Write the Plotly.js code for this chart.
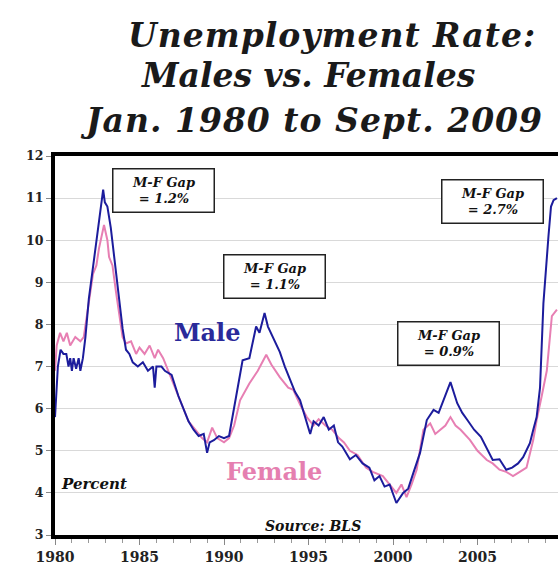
<!DOCTYPE html>
<html><head><meta charset="utf-8">
<script src="https://cdn.plot.ly/plotly-3.0.1.min.js"></script>
<style>html,body{margin:0;padding:0;overflow:hidden;background:#fff}#chart{width:575px;height:574px}</style>
</head><body><div id="chart"></div>
<script>
const maleYears = [1980.0,1980.08,1980.17,1980.33,1980.5,1980.67,1980.8,1980.9,1981.0,1981.1,1981.25,1981.4,1981.5,1981.65,1981.8,1982.0,1982.25,1982.5,1982.7,1982.85,1982.95,1983.1,1983.3,1983.5,1983.7,1984.0,1984.2,1984.4,1984.6,1984.9,1985.2,1985.5,1985.8,1985.9,1986.0,1986.3,1986.5,1986.9,1987.3,1987.6,1987.9,1988.2,1988.5,1988.8,1989.0,1989.15,1989.4,1989.7,1990.0,1990.3,1990.5,1990.8,1991.1,1991.5,1991.9,1992.1,1992.4,1992.6,1992.9,1993.3,1993.6,1993.9,1994.2,1994.5,1994.8,1995.1,1995.3,1995.6,1995.9,1996.2,1996.5,1996.75,1997.0,1997.45,1997.8,1998.2,1998.6,1998.9,1999.2,1999.5,1999.8,2000.2,2000.6,2000.9,2001.2,2001.6,2002.0,2002.4,2002.7,2003.0,2003.4,2003.8,2004.1,2004.4,2004.8,2005.2,2005.6,2005.9,2006.3,2006.7,2007.05,2007.4,2007.7,2008.1,2008.3,2008.5,2008.7,2008.9,2009.2,2009.35,2009.5,2009.7];
const maleRate = [5.8,6.3,7.0,7.4,7.3,7.3,7.0,7.2,6.9,7.2,6.95,7.2,6.9,7.2,7.7,8.6,9.4,10.1,10.7,11.2,10.9,10.8,10.3,9.6,8.8,7.9,7.4,7.3,7.1,7.0,7.1,6.9,7.0,6.5,7.0,7.0,6.9,6.8,6.3,6.0,5.7,5.5,5.35,5.4,4.95,5.2,5.25,5.35,5.3,5.35,5.8,6.5,7.15,7.2,7.95,7.8,8.27,7.95,7.7,7.35,7.0,6.7,6.4,6.2,5.8,5.4,5.7,5.6,5.8,5.5,5.6,5.2,5.1,4.8,4.9,4.7,4.6,4.3,4.4,4.15,4.2,3.76,4.0,4.1,4.47,4.95,5.73,5.97,5.9,6.2,6.63,6.13,5.9,5.73,5.5,5.33,5.0,4.78,4.8,4.55,4.6,4.7,4.85,5.18,5.5,5.8,6.5,8.5,10.1,10.8,10.95,11.0];
const femaleYears = [1980.0,1980.1,1980.3,1980.5,1980.7,1980.9,1981.2,1981.5,1981.7,1982.0,1982.25,1982.45,1982.6,1982.9,1983.1,1983.2,1983.4,1983.6,1983.8,1984.0,1984.2,1984.5,1984.8,1985.0,1985.3,1985.6,1985.9,1986.1,1986.4,1986.8,1987.2,1987.6,1987.9,1988.3,1988.7,1989.0,1989.3,1989.6,1990.0,1990.3,1990.6,1990.95,1991.5,1992.0,1992.5,1992.8,1993.3,1993.8,1994.1,1994.5,1994.9,1995.3,1995.6,1996.0,1996.4,1996.8,1997.1,1997.45,1997.9,1998.4,1998.8,1999.4,1999.8,2000.2,2000.5,2000.8,2001.1,2001.4,2001.8,2002.2,2002.5,2002.8,2003.1,2003.4,2003.7,2004.0,2004.55,2005.0,2005.55,2005.9,2006.3,2006.7,2007.1,2007.5,2007.9,2008.3,2008.5,2008.8,2009.1,2009.4,2009.7];
const femaleRate = [6.9,7.5,7.8,7.6,7.8,7.5,7.7,7.6,7.7,8.5,9.2,9.4,9.8,10.36,10.0,9.6,9.4,8.8,8.2,7.7,7.55,7.6,7.3,7.45,7.3,7.5,7.2,7.4,7.2,6.8,6.4,6.0,5.7,5.5,5.3,5.2,5.55,5.3,5.2,5.3,5.6,6.2,6.6,6.9,7.28,7.05,6.75,6.5,6.45,6.1,5.8,5.6,5.75,5.6,5.5,5.3,5.2,5.0,4.9,4.6,4.5,4.4,4.2,4.0,4.2,3.9,4.2,4.55,5.5,5.65,5.4,5.5,5.6,5.8,5.6,5.5,5.26,5.0,4.78,4.7,4.55,4.5,4.4,4.5,4.6,5.26,5.73,6.3,6.9,8.2,8.35];
const xTickVals = [1980,1985,1990,1995,2000,2005];
const xTickText = ['1980','1985','1990','1995','2000','2005'];
const yTickVals = [3,4,5,6,7,8,9,10,11,12];
const titleLines = ['Unemployment Rate:','Males vs. Females','Jan. 1980 to Sept. 2009'];
const gapNotes = [
  {x:1986.4, y:11.19, text:'M-F Gap<br>= 1.2%'},
  {x:1993.0, y:9.13, text:'M-F Gap<br>= 1.1%'},
  {x:2003.3, y:7.54, text:'M-F Gap<br>= 0.9%'},
  {x:2005.9, y:10.93, text:'M-F Gap<br>= 2.7%'}
];

const serif = 'DejaVu Serif, Liberation Serif, serif';
const traces = [
  {x:femaleYears, y:femaleRate, type:'scatter', mode:'lines', name:'Female', line:{color:'#e77fb3', width:2}},
  {x:maleYears, y:maleRate, type:'scatter', mode:'lines', name:'Male', line:{color:'#1c1c9c', width:2}}
];
const annotations = gapNotes.map(g => ({
  x:g.x, y:g.y, xref:'x', yref:'y', text:g.text, showarrow:false,
  font:{family:serif, size:13, color:'#111', weight:'bold', style:'italic'},
  bgcolor:'#fff', bordercolor:'#222', borderwidth:1.5, borderpad:5, width:90
}));
// title lines: pixel centres in the 574px frame -> paper coords (plot top 156px, height 379px; left 55px, width 507px)
const titlePos = [{cx:332, cy:36, ls:1}, {cx:308, cy:76, ls:0}, {cx:311, cy:120, ls:1}];
titleLines.forEach((t, i) => annotations.push({
  xref:'paper', yref:'paper', x:(titlePos[i].cx - 55) / 507, y:1 + (156 - titlePos[i].cy) / 379,
  xanchor:'center', yanchor:'middle', showarrow:false,
  text:'<span style="letter-spacing:' + titlePos[i].ls + 'px">' + t + '</span>',
  font:{family:serif, size:33, color:'#1a1a1a', weight:'bold', style:'italic'}
}));
annotations.push(
  {x:1989.05, y:7.82, xref:'x', yref:'y', text:'Male', showarrow:false, font:{family:serif, size:24, color:'#2a2a9a', weight:'bold'}},
  {x:1992.96, y:4.5, xref:'x', yref:'y', text:'Female', showarrow:false, font:{family:serif, size:24, color:'#e57fb0', weight:'bold'}},
  {x:1980.25, y:4.21, xref:'x', yref:'y', xanchor:'left', text:'Percent', showarrow:false, font:{family:serif, size:15, color:'#111', weight:'bold', style:'italic'}},
  {x:1995.27, y:3.22, xref:'x', yref:'y', text:'Source: BLS', showarrow:false, font:{family:serif, size:14, color:'#111', weight:'bold', style:'italic'}}
);
const layout = {
  width:575, height:574,
  margin:{l:55, r:13, t:156, b:39},
  paper_bgcolor:'#fff', plot_bgcolor:'#fff',
  showlegend:false,
  xaxis:{range:[1980,2010], tickvals:xTickVals, ticktext:xTickText, ticks:'outside', ticklen:6, tickcolor:'#888', tickwidth:1,
    minor:{dtick:1, tick0:1980, ticks:'outside', ticklen:4, tickcolor:'#999', showgrid:false},
    showgrid:false, zeroline:false, showline:true, linewidth:4, linecolor:'#000', mirror:true,
    tickfont:{family:serif, size:14, color:'#222', weight:'bold'}},
  yaxis:{range:[3,12], tickvals:yTickVals, ticks:'outside', ticklen:5, tickcolor:'#888',
    showgrid:true, gridcolor:'#d9d9d9', gridwidth:1, zeroline:false, showline:true, linewidth:4, linecolor:'#000', mirror:true,
    tickfont:{family:serif, size:12.5, color:'#222', weight:'bold'}},
  annotations:annotations
};
Plotly.newPlot('chart', traces, layout, {displayModeBar:false, staticPlot:true});
</script></body></html>
